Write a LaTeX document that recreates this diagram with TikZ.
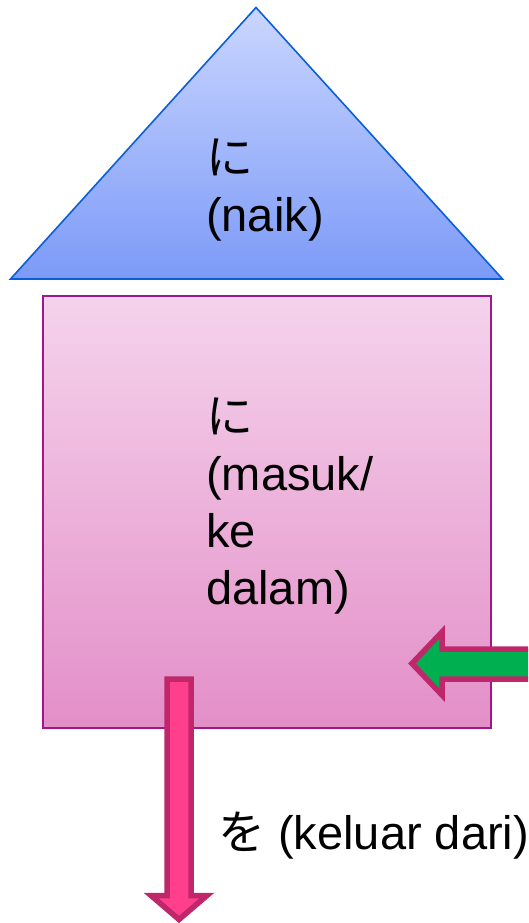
\documentclass[tikz,border=0pt]{standalone}
\usepackage{fontspec}
\setmainfont{Liberation Sans}
\newfontfamily\cjk{Noto Sans CJK JP}
\definecolor{triedge}{HTML}{0A5FD6}
\definecolor{tritop}{HTML}{CAD6FF}
\definecolor{tribot}{HTML}{7C9AF7}
\definecolor{boxedge}{HTML}{A0168C}
\definecolor{boxtop}{HTML}{F5D3EC}
\definecolor{boxbot}{HTML}{E38FC8}
\definecolor{arrowedge}{HTML}{C0266A}
\definecolor{greenfill}{HTML}{00B050}
\definecolor{pinkfill}{HTML}{FF3F8C}
\begin{document}
\begin{tikzpicture}[x=1pt,y=-1pt,
  lbl/.style={anchor=base west,inner sep=0pt,font=\fontsize{47}{57}\selectfont},
  blockarrow/.style={draw=arrowedge,line width=5.5pt,miter limit=10}]
\useasboundingbox (0,0) rectangle (528,923);
\clip (0,0) rectangle (528,923);
% roof
\draw[triedge,line width=1.6pt,top color=tritop,bottom color=tribot]
  (256,7.5) -- (502.5,279) -- (10.5,279) -- cycle;
% house body
\draw[boxedge,line width=2pt,top color=boxtop,bottom color=boxbot]
  (42.5,295.5) rectangle (490.5,727.5);
% labels
\node[lbl] (t1) at (206,174) {\cjk に};
\node[lbl] (t2) at (206,231) {(naik)};
\node[lbl] (b1) at (206,433) {\cjk に};
\node[lbl] (b2) at (206,490) {(masuk/};
\node[lbl] (b3) at (206,547) {ke};
\node[lbl] (b4) at (206,604) {dalam)};
\node[lbl] (o1) at (218,849) {{\cjk を} (keluar dari)};
% green arrow (entering)
\draw[blockarrow,fill=greenfill]
  (412,663.5) -- (442,632) -- (442,649) -- (545,649) -- (545,679) -- (442,679) -- (442,695) -- cycle;
% pink arrow (leaving)
\draw[blockarrow,fill=pinkfill]
  (167,679) -- (191,679) -- (191,895.5) -- (207,895.5) -- (179,919.5) -- (151,895.5) -- (167,895.5) -- cycle;
\end{tikzpicture}
\end{document}
